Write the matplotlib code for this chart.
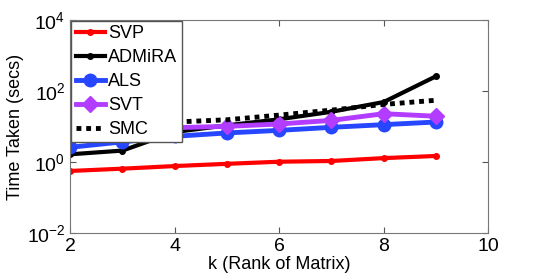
import numpy as np
import matplotlib.pyplot as plt

plt.rcParams['font.family'] = ['Liberation Sans', 'DejaVu Sans']

k = [2, 3, 4, 5, 6, 7, 8, 9]
svp = [0.56, 0.65, 0.77, 0.89, 1.02, 1.07, 1.29, 1.48]
admira = [1.65, 2.1, 7.0, 10.8, 16, 26, 49, 260]
als = [2.6, 3.7, 5.3, 6.6, 7.8, 9.5, 11.3, 13.4]
svt = [6.3, 7.5, 9.3, 10.1, 11.8, 14.9, 23, 19.5]
smc = [9.0, 11.0, 13.4, 15.5, 21, 29, 42, 55]

fig = plt.figure(figsize=(5.4, 2.73), dpi=100)
ax = fig.add_axes([0.13, 0.1465, 0.774, 0.78])

ax.plot(k, svp, color='red', lw=3, marker='o', ms=4, label='SVP')
ax.plot(k, admira, color='black', lw=3, marker='o', ms=4, label='ADMiRA')
ax.plot(k, als, color='#2646ff', lw=3.5, marker='o', ms=9, label='ALS')
ax.plot(k, svt, color='#b23cff', lw=3.5, marker='D', ms=8, label='SVT')
ax.plot(k, smc, color='black', lw=3.5, ls=(0, (1, 1)), label='SMC')

ax.set_yscale('log')
ax.set_xlim(2, 10)
ax.set_ylim(1e-2, 1e4)
ax.set_xticks([2, 4, 6, 8, 10])
ax.set_yticks([1e-2, 1e0, 1e2, 1e4])
ax.minorticks_off()
ax.tick_params(direction='in', top=True, right=True, labelsize=14, length=4,
               color='#555555')
for s in ax.spines.values():
    s.set_color('#777777')
ax.set_xlabel('k (Rank of Matrix)', fontsize=13, labelpad=1)
ax.set_ylabel('Time Taken (secs)', fontsize=13, labelpad=2)

leg = ax.legend(loc='upper left', fontsize=13, handlelength=1.6, handletextpad=0.2,
                borderpad=0.25, labelspacing=0.38, borderaxespad=0.05, fancybox=False,
                framealpha=1)
leg.get_frame().set_edgecolor('#555555')

fig.savefig('out.png', dpi=100)
